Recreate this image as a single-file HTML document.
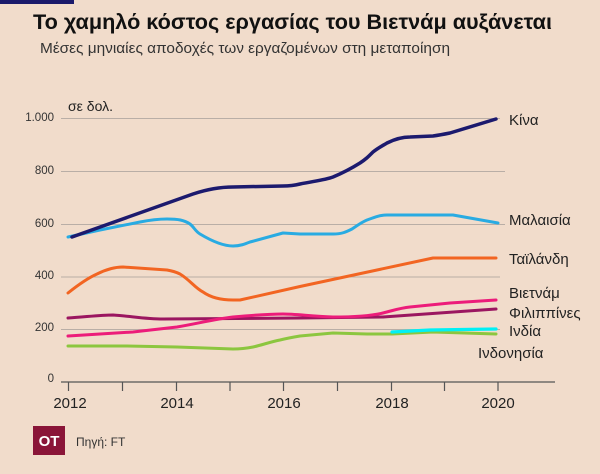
<!DOCTYPE html>
<html>
<head>
<meta charset="utf-8">
<style>
html,body{margin:0;padding:0;background:#f1dccb;}
svg{display:block;}
text{font-family:"Liberation Sans","DejaVu Sans",sans-serif;}
</style>
</head>
<body>
<svg width="600" height="474" viewBox="0 0 600 474" xmlns="http://www.w3.org/2000/svg">
<rect x="0" y="0" width="600" height="474" fill="#f1dccb"/>
<rect x="0" y="0" width="74" height="4" fill="#1b1a6b"/>
<text x="33" y="29" font-size="21" font-weight="bold" fill="#111" textLength="519" lengthAdjust="spacingAndGlyphs">Το χαμηλό κόστος εργασίας του Βιετνάμ αυξάνεται</text>
<text x="40" y="53" font-size="14.5" fill="#333" textLength="410" lengthAdjust="spacingAndGlyphs">Μέσες μηνιαίες αποδοχές των εργαζομένων στη μεταποίηση</text>

<!-- gridlines -->
<g stroke="#b9aea6" stroke-width="1">
<line x1="61" y1="118.5" x2="500" y2="118.5"/>
<line x1="61" y1="171.5" x2="505" y2="171.5"/>
<line x1="61" y1="224.5" x2="505" y2="224.5"/>
<line x1="61" y1="277" x2="500" y2="277"/>
<line x1="61" y1="329.5" x2="500" y2="329.5"/>
</g>
<line x1="61" y1="382" x2="555" y2="382" stroke="#555" stroke-width="1.2"/>
<g stroke="#555" stroke-width="1.2">
<line x1="68.5" y1="382" x2="68.5" y2="391"/>
<line x1="122.5" y1="382" x2="122.5" y2="391"/>
<line x1="176.5" y1="382" x2="176.5" y2="391"/>
<line x1="230" y1="382" x2="230" y2="391"/>
<line x1="283.5" y1="382" x2="283.5" y2="391"/>
<line x1="337.5" y1="382" x2="337.5" y2="391"/>
<line x1="391.5" y1="382" x2="391.5" y2="391"/>
<line x1="444.5" y1="382" x2="444.5" y2="391"/>
<line x1="498" y1="382" x2="498" y2="391"/>
</g>

<!-- y labels -->
<g font-size="11.5" fill="#333" text-anchor="end">
<text x="54" y="121">1.000</text>
<text x="54" y="174">800</text>
<text x="54" y="227">600</text>
<text x="54" y="279">400</text>
<text x="54" y="331">200</text>
<text x="54" y="382">0</text>
</g>
<text x="68" y="111" font-size="14" fill="#222">σε δολ.</text>

<!-- x labels -->
<g font-size="15" fill="#222" text-anchor="middle">
<text x="70" y="408">2012</text>
<text x="177" y="408">2014</text>
<text x="284" y="408">2016</text>
<text x="392" y="408">2018</text>
<text x="498" y="408">2020</text>
</g>

<g fill="none" stroke-linecap="round" stroke-linejoin="round">
<!-- Indonesia -->
<path d="M68,346 L127,346 L177,347 L233,349 C243,349 248,348 253,347 C262,345 270,342 280,340 C288,338 294,337 300,336 L333,333 L367,334 L392,334 L433,332 L496,334" stroke="#8cc63f" stroke-width="3"/>
<!-- India -->
<path d="M392,332 L430,330 L496,329" stroke="#00f0f5" stroke-width="3.2"/>
<!-- Philippines -->
<path d="M68,318 C85,317 100,315 113,315 C130,316 145,319 163,319 L300,318 L383,317 L496,309" stroke="#9b1660" stroke-width="3"/>
<!-- Vietnam -->
<path d="M68,336 L133,332 L177,327 C200,323 215,319 233,317 C255,315 270,314 283,314 C295,314 310,316 333,317 C355,317 370,316 383,313 C395,310 400,308 410,307 L450,303 L496,300" stroke="#ec1c7a" stroke-width="3"/>
<!-- Thailand -->
<path d="M68,293 C78,285 88,278 97,274 C107,269 115,267 123,267 L167,270 C173,271 176,272 180,274 C190,280 195,288 203,292 C210,297 220,300 233,300 L240,300 L300,286.5 L433,258 L496,258" stroke="#f26522" stroke-width="3"/>
<!-- Malaysia -->
<path d="M68,237 L100,230 L140,222 C150,220 158,219 167,219 C178,219 184,220 190,224 C194,227 195,231 200,234 C210,240 222,246 233,246 C240,246 245,244 250,242 L283,233 L300,234 L333,234 C342,234 346,232 352,229 C358,225 362,222 367,220 C375,217 380,215 387,215 L453,215 L498,223" stroke="#29abe2" stroke-width="3"/>
<!-- China -->
<path d="M72,237 L193,194 C205,190 220,187 233,187 L283,186 C292,186 296,185 300,184 C315,181 325,180 333,177 C345,172 352,168 360,163 C366,159 368,157 373,152 C378,148 382,146 387,143 C395,139 402,137 410,137 L433,136 C440,135 445,134 450,133 L496,119" stroke="#1c1a6e" stroke-width="3.5"/>
</g>

<!-- series labels -->
<g font-size="15" fill="#222">
<text x="509" y="125">Κίνα</text>
<text x="509" y="225">Μαλαισία</text>
<text x="509" y="264">Ταϊλάνδη</text>
<text x="509" y="298">Βιετνάμ</text>
<text x="509" y="318">Φιλιππίνες</text>
<text x="509" y="336">Ινδία</text>
<text x="478" y="358">Ινδονησία</text>
</g>

<!-- logo -->
<rect x="33" y="426" width="32" height="29" fill="#8a1538"/>
<text x="49" y="446" font-size="15" font-weight="bold" fill="#fff" text-anchor="middle">OT</text>
<text x="76" y="446" font-size="12" fill="#333">Πηγή: FT</text>
</svg>
</body>
</html>
